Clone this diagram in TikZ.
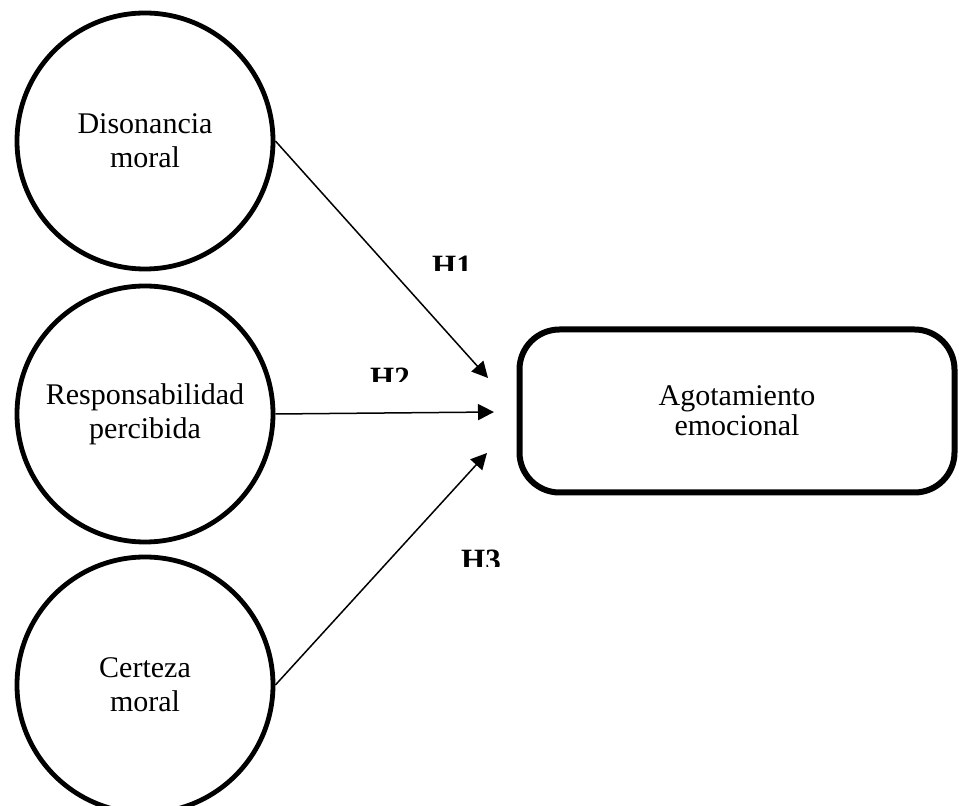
\documentclass[tikz,border=0pt]{standalone}
\usepackage{fontspec}
\setmainfont{Liberation Serif}
\usepackage{tikz}
\usetikzlibrary{shapes,arrows.meta}

\begin{document}
\begin{tikzpicture}[x=0.5pt,y=-0.5pt]
      \tikzstyle{latent}=[circle,draw,line width=2.4pt,minimum size=128pt,align=center,font=\fontsize{15}{17}\selectfont]
      \tikzstyle{outcome}=[rectangle,rounded corners=20pt,draw,line width=3pt,minimum width=217.5pt,minimum height=81.5pt,align=center,font=\fontsize{15}{15}\selectfont]
      \tikzstyle{hyparrow}=[-{Triangle[length=8pt,width=8pt]},line width=0.75pt]
      \tikzstyle{hyp}=[anchor=base,inner sep=0pt,font=\bfseries\fontsize{15.5}{17}\selectfont]
      \useasboundingbox (0,0) rectangle (959,806);
      \node[latent] (dis) at (145,141) {Disonancia\\moral};
      \node[latent] (res) at (145,414) {Responsabilidad\\percibida};
      \node[latent] (cer) at (145,685) {Certeza\\moral};
      \node[outcome] (ago) at (737,411) {Agotamiento\\emocional};
      \coordinate (t1) at (488,378);
      \coordinate (t2) at (494,412);
      \coordinate (t3) at (487,453);
      \draw[hyparrow] (dis.east) -- (t1);
      \draw[hyparrow] (res.east) -- (t2);
      \draw[hyparrow] (cer.east) -- (t3);
      % labels are cut off at the bottom
      \begin{scope}
        \clip (420,250) rectangle (490,271);
        \node[hyp] (h1) at (452,277) {H1};
      \end{scope}
      \begin{scope}
        \clip (355,360) rectangle (425,382);
        \node[hyp] (h2) at (390,389) {H2};
      \end{scope}
      \begin{scope}
        \clip (445,545) rectangle (515,567);
        \node[hyp] (h3) at (481,571) {H3};
      \end{scope}
\end{tikzpicture}
\end{document}
